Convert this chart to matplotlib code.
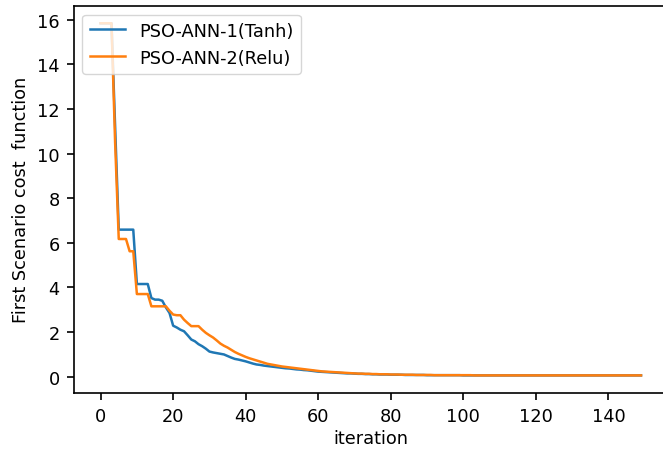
import matplotlib
matplotlib.use("Agg")
import matplotlib.pyplot as plt

iterations = list(range(150))

tanh_cost = [
    15.85, 15.85, 15.85, 15.85, 11.2, 6.59, 6.59, 6.59, 6.59, 6.59,
    4.15, 4.15, 4.15, 4.15, 3.52, 3.45, 3.45, 3.40, 3.10, 2.85,
    2.28, 2.20, 2.10, 2.03, 1.85, 1.66, 1.58, 1.45, 1.36, 1.25,
    1.12, 1.08, 1.05, 1.02, 0.99, 0.92, 0.85, 0.79, 0.76, 0.72,
    0.68, 0.63, 0.58, 0.54, 0.52, 0.49, 0.47, 0.45, 0.43, 0.41,
    0.39, 0.37, 0.36, 0.34, 0.32, 0.31, 0.29, 0.28, 0.26, 0.24,
    0.22, 0.21, 0.20, 0.19, 0.18, 0.17, 0.16, 0.15, 0.14, 0.14,
    0.13, 0.12, 0.12, 0.11, 0.11, 0.10, 0.10, 0.09, 0.09, 0.09,
    0.08, 0.08, 0.08, 0.08, 0.07, 0.07, 0.07, 0.07, 0.07, 0.07,
    0.06, 0.06, 0.06, 0.06, 0.06, 0.06, 0.06, 0.06, 0.06, 0.06,
    0.05, 0.05, 0.05, 0.05, 0.05, 0.05, 0.05, 0.05, 0.05, 0.05,
    0.05, 0.05, 0.05, 0.05, 0.05, 0.05, 0.05, 0.05, 0.05, 0.05,
    0.05, 0.05, 0.05, 0.05, 0.05, 0.05, 0.05, 0.05, 0.05, 0.05,
    0.05, 0.05, 0.05, 0.05, 0.05, 0.05, 0.05, 0.05, 0.05, 0.05,
    0.05, 0.05, 0.05, 0.05, 0.05, 0.05, 0.05, 0.05, 0.05, 0.05,
]

relu_cost = [
    15.85, 15.85, 15.85, 15.85, 10.5, 6.17, 6.17, 6.17, 5.62, 5.62,
    3.70, 3.70, 3.70, 3.70, 3.15, 3.15, 3.15, 3.15, 3.15, 2.95,
    2.78, 2.75, 2.75, 2.55, 2.40, 2.26, 2.26, 2.26, 2.10, 1.96,
    1.85, 1.75, 1.62, 1.48, 1.38, 1.30, 1.20, 1.10, 1.02, 0.95,
    0.88, 0.82, 0.77, 0.72, 0.67, 0.62, 0.57, 0.54, 0.51, 0.48,
    0.45, 0.43, 0.41, 0.39, 0.37, 0.35, 0.33, 0.31, 0.29, 0.27,
    0.25, 0.23, 0.22, 0.21, 0.20, 0.19, 0.18, 0.17, 0.16, 0.15,
    0.14, 0.13, 0.13, 0.12, 0.12, 0.11, 0.11, 0.10, 0.10, 0.10,
    0.09, 0.09, 0.09, 0.08, 0.08, 0.08, 0.08, 0.07, 0.07, 0.07,
    0.07, 0.07, 0.06, 0.06, 0.06, 0.06, 0.06, 0.06, 0.06, 0.06,
    0.06, 0.06, 0.06, 0.05, 0.05, 0.05, 0.05, 0.05, 0.05, 0.05,
    0.05, 0.05, 0.05, 0.05, 0.05, 0.05, 0.05, 0.05, 0.05, 0.05,
    0.05, 0.05, 0.05, 0.05, 0.05, 0.05, 0.05, 0.05, 0.05, 0.05,
    0.05, 0.05, 0.05, 0.05, 0.05, 0.05, 0.05, 0.05, 0.05, 0.05,
    0.05, 0.05, 0.05, 0.05, 0.05, 0.05, 0.05, 0.05, 0.05, 0.05,
]

series_labels = ["PSO-ANN-1(Tanh)", "PSO-ANN-2(Relu)"]

plt.rcParams['font.family'] = ['DejaVu Sans']
fs = 12.8
fig = plt.figure(figsize=(6.63, 4.52), dpi=100)
ax = fig.add_axes([0.111, 0.1283, 0.8966, 0.857])
lw = 1.8
ax.plot(iterations, tanh_cost, color='#1f77b4', lw=lw, label=series_labels[0])
ax.plot(iterations, relu_cost, color='#ff7f0e', lw=lw, label=series_labels[1])
ax.set_xlabel('iteration', fontsize=fs, labelpad=3)
ax.set_ylabel('First Scenario cost  function', fontsize=fs, labelpad=5)
ax.set_xticks(range(0, 141, 20))
ax.set_yticks(range(0, 17, 2))
ax.tick_params(labelsize=fs, width=1.2, length=5, pad=5)
for s in ax.spines.values():
    s.set_linewidth(1.2)
ax.legend(loc='upper left', fontsize=fs, handlelength=2.0)
fig.savefig('out.png', dpi=100)
